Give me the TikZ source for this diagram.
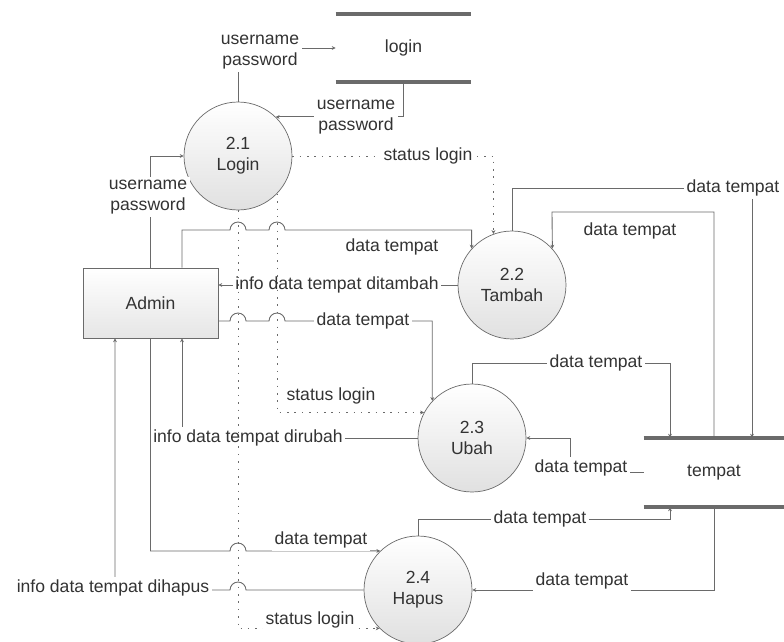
\documentclass[tikz,border=0pt]{standalone}
\usepackage{fontspec}
\setmainfont{Liberation Sans}
\usetikzlibrary{arrows.meta,calc}
\definecolor{linegray}{HTML}{6A6A6A}
\definecolor{textgray}{HTML}{333333}
\definecolor{storegray}{HTML}{6B6B6B}
\tikzset{
	proc/.style={draw=linegray,circle,top color=white,bottom color=black!12,inner sep=0,minimum size=2.16cm,align=center,text=textgray},
	ent/.style={draw=linegray,rectangle,top color=white,bottom color=black!10,inner sep=0,minimum width=2.7cm,minimum height=1.4cm,text=textgray},
	store/.style={inner sep=0,text=textgray},
	storeline/.style={draw=storegray,line width=2.3pt},
	flow/.style={draw=linegray,line width=0.5pt,-{Stealth[length=2.2pt,width=2.2pt]}},
	stat/.style={flow,dash pattern=on 0.9pt off 3.3pt},
	lbl/.style={fill=white,inner sep=1.5pt,align=center,text=textgray},
	hop/.style={insert path={arc[start angle=180,end angle=0,radius=0.16cm]}},
	hopback/.style={insert path={arc[start angle=0,end angle=180,radius=0.16cm]}}
}
\begin{document}
\begin{tikzpicture}[x=0.02cm,y=-0.02cm]
	\useasboundingbox (0,0) rectangle (784,642);
	% processes, entity, stores
	\node[proc] (login) at (238,156) {2.1\\Login};
	\node[proc] (tambah) at (512,285) {2.2\\Tambah};
	\node[proc] (ubah) at (472,438) {2.3\\Ubah};
	\node[proc] (hapus) at (418,590) {2.4\\Hapus};
	\node[ent] (admin) at (150.5,303) {Admin};
	\node[store,minimum width=2.7cm,minimum height=1.36cm] (dblogin) at (403.5,48) {login};
	\node[store,minimum width=2.8cm,minimum height=1.38cm] (dbtempat) at (714,472.5) {tempat};
	\draw[storeline] (dblogin.north west) -- (dblogin.north east);
	\draw[storeline] (dblogin.south west) -- (dblogin.south east);
	\draw[storeline] (dbtempat.north west) -- (dbtempat.north east);
	\draw[storeline] (dbtempat.south west) -- (dbtempat.south east);

	% login flows
	\draw[flow] (login.north) |- (dblogin.west);
	\node[lbl] at (260,52) {username\\password};
	\draw[flow] (dblogin.south) |- (login.46);
	\node[lbl] at (356,117) {username\\password};
	\draw[flow] (admin.north) |- (login.west);
	\node[lbl] at (148,197) {username\\password};

	% admin flows
	\draw[flow] ($(admin.north)+(31.5,0)$) |- (230,230) [hop] -- (269,230) [hop] -| (tambah.138);
	\node[lbl] at (392,247) {data tempat};
	\draw[flow] (tambah.west) -- (tambah.west -| admin.east);
	\node[lbl] at (337,285) {info data tempat ditambah};
	\draw[flow] ($(admin.east)+(0,18)$) -- (230,321) [hop] -- (269,321) [hop] -| (ubah.137);
	\node[lbl] at (363,321) {data tempat};
	\draw[flow] (ubah.west) -| ($(admin.south)+(31.5,0)$);
	\node[lbl] at (248,438) {info data tempat dirubah};
	\draw[flow] (admin.south) |- (230,551) [hop] -- (hapus.134);
	\node[lbl] at (321,540) {data tempat};
	\draw[flow] (hapus.west) -- (246,590) [hopback] -| ($(admin.south)+(-35.5,0)$);
	\node[lbl] at (113,588) {info data tempat dihapus};

	% tempat flows
	\draw[flow] (tambah.north) |- (752,188) -- ($(dbtempat.north)+(38,0)$);
	\node[lbl] at (733,188) {data tempat};
	\draw[flow] (dbtempat.north) |- (552,212) -- (tambah.42);
	\node[lbl] at (630,231) {data tempat};
	\draw[flow] (ubah.north) |- (670,363) -- ($(dbtempat.north)+(-44,0)$);
	\node[lbl] at (596,363) {data tempat};
	\draw[flow] (dbtempat.west) -| (570,438) -- (ubah.east);
	\node[lbl] at (581,468) {data tempat};
	\draw[flow] (hapus.north) |- (670,519) -- ($(dbtempat.south)+(-44,0)$);
	\node[lbl] at (540,519) {data tempat};
	\draw[flow] (dbtempat.south) |- (hapus.east);
	\node[lbl] at (582,581) {data tempat};

	% status login
	\draw[stat] (login.east) -| (tambah.110);
	\node[lbl] at (428,156) {status login};
	\draw[stat] (login.316) |- (ubah.152);
	\node[lbl] at (331,396) {status login};
	\draw[stat] (login.south) |- (hapus.225);
	\node[lbl] at (310,620) {status login};
\end{tikzpicture}
\end{document}
